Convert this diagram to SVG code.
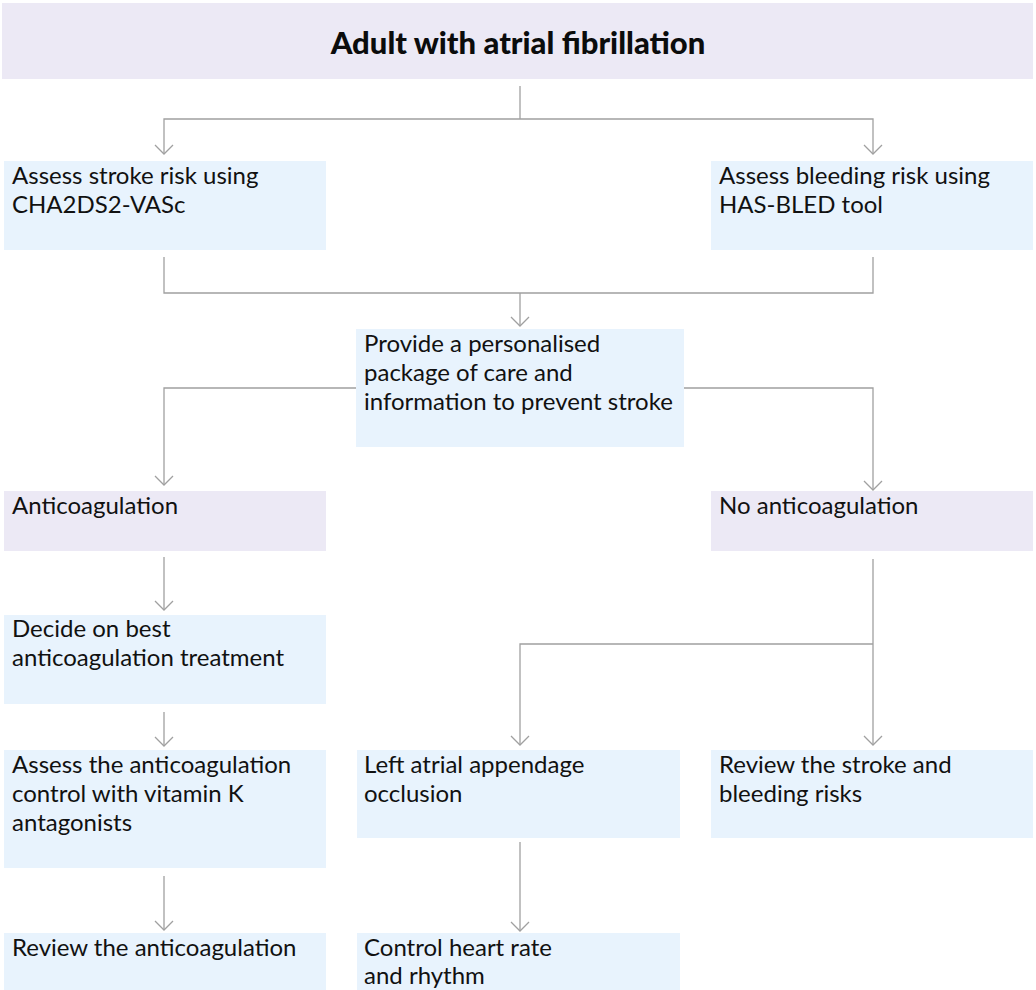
<svg xmlns="http://www.w3.org/2000/svg" width="1036" height="990" viewBox="0 0 1036 990">
<style>
.bg{fill:#ffffff}
.blue{fill:#e8f3fd}
.lav{fill:#ece9f5}
.t{font-family:Lato,"Open Sans","Liberation Sans",sans-serif;font-size:24px;fill:#111111}
.title{font-family:Lato,"Open Sans","Liberation Sans",sans-serif;font-size:31px;font-weight:900;fill:#0b0c0c}
.c{fill:none;stroke:#a0a0a0;stroke-width:1.3}
</style>
<defs>
<marker id="arr" markerUnits="userSpaceOnUse" markerWidth="24" markerHeight="16" viewBox="-12 -13 24 16" refX="0" refY="0" orient="auto-start-reverse" overflow="visible">
<path d="M-9,-9 L0,0 L9,-9" transform="rotate(-90)" fill="none" stroke="#a0a0a0" stroke-width="1.3"/>
</marker>
</defs>
<rect class="bg" x="0" y="0" width="1036" height="990"/>

<g id="title">
<rect class="lav" x="2" y="3" width="1031" height="76"/>
<text class="title" x="518" y="54" text-anchor="middle">Adult with atrial fibrillation</text>
</g>

<g id="stroke-risk">
<rect class="blue" x="4" y="161" width="322" height="89"/>
<text class="t" x="12" y="184">Assess stroke risk using</text>
<text class="t" x="12" y="213">CHA2DS2-VASc</text>
</g>

<g id="bleeding-risk">
<rect class="blue" x="711" y="161" width="322" height="89"/>
<text class="t" x="719" y="184">Assess bleeding risk using</text>
<text class="t" x="719" y="213">HAS-BLED tool</text>
</g>

<g id="package">
<rect class="blue" x="356" y="329" width="328" height="118"/>
<text class="t" x="364" y="352">Provide a personalised</text>
<text class="t" x="364" y="381">package of care and</text>
<text class="t" x="364" y="410">information to prevent stroke</text>
</g>

<g id="anticoagulation">
<rect class="lav" x="4" y="491" width="322" height="60"/>
<text class="t" x="12" y="514">Anticoagulation</text>
</g>

<g id="no-anticoagulation">
<rect class="lav" x="711" y="491" width="322" height="60"/>
<text class="t" x="719" y="514">No anticoagulation</text>
</g>

<g id="decide">
<rect class="blue" x="4" y="615" width="322" height="89"/>
<text class="t" x="12" y="637">Decide on best</text>
<text class="t" x="12" y="666">anticoagulation treatment</text>
</g>

<g id="assess-control">
<rect class="blue" x="4" y="750" width="322" height="118"/>
<text class="t" x="12" y="773">Assess the anticoagulation</text>
<text class="t" x="12" y="802">control with vitamin K</text>
<text class="t" x="12" y="831">antagonists</text>
</g>

<g id="laao">
<rect class="blue" x="357" y="750" width="323" height="88"/>
<text class="t" x="364" y="773">Left atrial appendage</text>
<text class="t" x="364" y="802">occlusion</text>
</g>

<g id="review-risks">
<rect class="blue" x="711" y="750" width="322" height="88"/>
<text class="t" x="719" y="773">Review the stroke and</text>
<text class="t" x="719" y="802">bleeding risks</text>
</g>

<g id="review-anticoag">
<rect class="blue" x="4" y="933" width="322" height="57"/>
<text class="t" x="12" y="956">Review the anticoagulation</text>
</g>

<g id="control-rate">
<rect class="blue" x="357" y="933" width="323" height="57"/>
<text class="t" x="364" y="956">Control heart rate</text>
<text class="t" x="364" y="984">and rhythm</text>
</g>

<g id="connectors">
<path class="c" d="M520,86 V119"/>
<path class="c" d="M164,154 V119 H873 V154" marker-start="url(#arr)" marker-end="url(#arr)"/>
<path class="c" d="M164,257 V293 H873 V257"/>
<path class="c" d="M520,293 V326" marker-end="url(#arr)"/>
<path class="c" d="M356,388 H164 V485" marker-end="url(#arr)"/>
<path class="c" d="M684,388 H873 V490" marker-end="url(#arr)"/>
<path class="c" d="M164,557 V610" marker-end="url(#arr)"/>
<path class="c" d="M164,712 V746" marker-end="url(#arr)"/>
<path class="c" d="M164,876 V930" marker-end="url(#arr)"/>
<path class="c" d="M873,559 V745" marker-end="url(#arr)"/>
<path class="c" d="M873,644 H520 V745" marker-end="url(#arr)"/>
<path class="c" d="M520,842 V931" marker-end="url(#arr)"/>
</g>
</svg>
